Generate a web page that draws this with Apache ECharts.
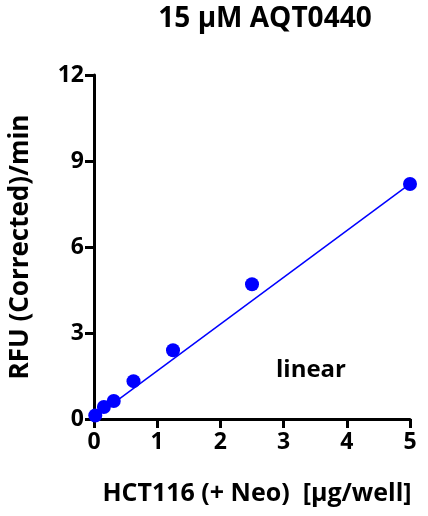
<!DOCTYPE html>
<html><head><meta charset="utf-8">
<script src="https://cdn.jsdelivr.net/npm/echarts@6/dist/echarts.min.js"></script>
<style>html,body{margin:0;padding:0;background:#fff}#c{width:428px;height:516px}</style>
</head><body><div id="c"></div>
<script>
// measured points
var xVals = [0.02, 0.156, 0.3125, 0.625, 1.25, 2.5, 5];
var yVals = [0.12, 0.42, 0.63, 1.32, 2.4, 4.7, 8.2];
var fitX = [0, 5];
var fitY = [0.05, 8.2];

var pts = [];
for (var i = 0; i < xVals.length; i++) pts.push([xVals[i], yVals[i]]);
var line = [[fitX[0], fitY[0]], [fitX[1], fitY[1]]];

var chart = echarts.init(document.getElementById('c'));
var lbl = {color: '#000', fontWeight: 'bold', fontSize: 23, fontFamily: 'Open Sans'};
chart.setOption({
  animation: false,
  title: {text: '15 μM AQT0440', left: 260, top: 0, textAlign: 'center',
    textStyle: {fontSize: 28, fontWeight: 'bold', fontFamily: 'Open Sans', color: '#000'}},
  grid: {left: 93, right: 18, top: 75, bottom: 97},
  xAxis: {type: 'value', min: 0, max: 5, interval: 1,
    name: 'HCT116 (+ Neo)  [μg/well]', nameLocation: 'middle', nameGap: 62,
    nameTextStyle: {fontSize: 25, fontWeight: 'bold', fontFamily: 'Open Sans', color: '#000', padding: [0, 0, 0, 10]},
    axisLine: {lineStyle: {color: '#000', width: 3}},
    axisTick: {length: 9, lineStyle: {width: 3, color: '#000'}},
    axisLabel: Object.assign({margin: 12}, lbl), splitLine: {show: false}},
  yAxis: {type: 'value', min: 0, max: 12, interval: 3,
    name: 'RFU (Corrected)/min', nameLocation: 'middle', nameGap: 60,
    nameTextStyle: {fontSize: 26, fontWeight: 'bold', fontFamily: 'Open Sans', color: '#000'},
    axisLine: {show: true, lineStyle: {color: '#000', width: 3}},
    axisTick: {show: true, length: 9, lineStyle: {width: 3, color: '#000'}},
    axisLabel: Object.assign({margin: 10}, lbl), splitLine: {show: false}},
  graphic: [{type: 'text', left: 276, top: 358,
    style: {text: 'linear', fontSize: 24, fontWeight: 'bold', fontFamily: 'Open Sans', fill: '#000'}}],
  series: [
    {type: 'line', data: line, symbol: 'none', lineStyle: {color: '#0000ff', width: 1.5}, z: 2},
    {type: 'scatter', data: pts, symbolSize: 14, itemStyle: {color: '#0000ff', opacity: 1}, z: 3}
  ]
});
</script></body></html>
